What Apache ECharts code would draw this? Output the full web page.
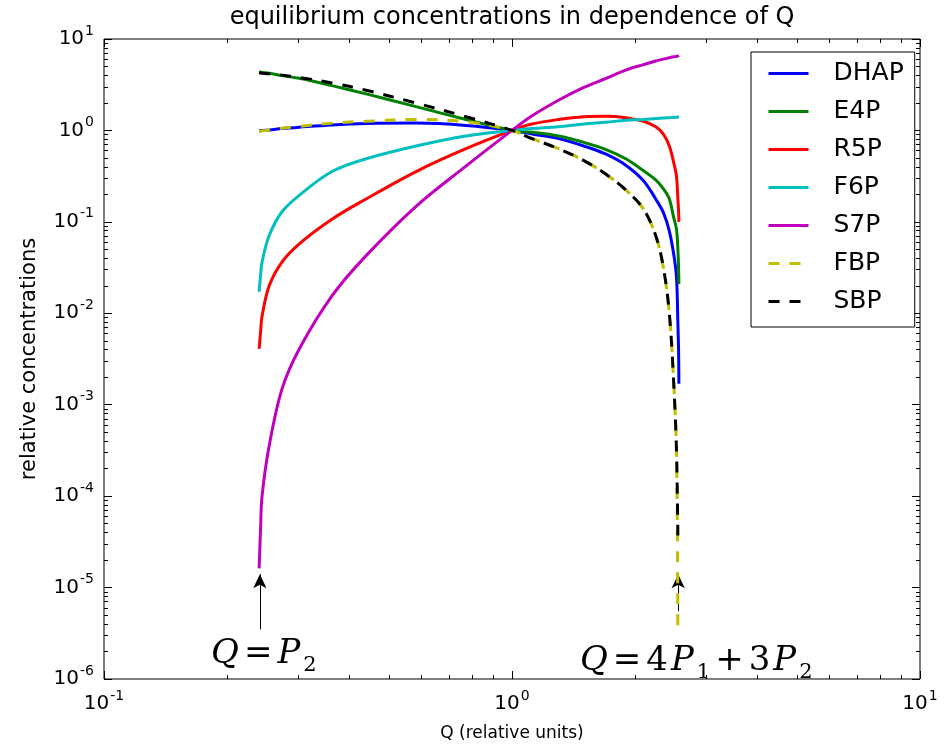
<!DOCTYPE html>
<html>
<head>
<meta charset="utf-8">
<script src="https://cdn.jsdelivr.net/npm/echarts@6/dist/echarts.min.js"></script>
<style>
html,body{margin:0;padding:0;background:#fff;}
#main{width:946px;height:747px;}
</style>
</head>
<body>
<div id="main"></div>
<script>
// Q values shared by all curves (relative units)
var qValues = [0.24, 0.242, 0.244, 0.254, 0.273, 0.301, 0.362, 0.439, 0.582, 0.771, 1.0, 1.12, 1.3, 1.5, 1.7, 1.9, 2.1, 2.25, 2.35, 2.43, 2.49, 2.53, 2.55, 2.56, 2.565];

// relative concentrations
var dhap = [0.989, 0.992, 0.995, 1.012, 1.047, 1.084, 1.148, 1.189, 1.202, 1.135, 1.0, 0.912, 0.813, 0.676, 0.55, 0.417, 0.282, 0.178, 0.126, 0.0794, 0.0447, 0.0251, 0.00794, 0.00398, 0.0017];
var e4p = [4.365, 4.345, 4.315, 4.217, 3.981, 3.715, 3.09, 2.512, 1.82, 1.318, 1.0, 0.955, 0.871, 0.741, 0.617, 0.49, 0.363, 0.288, 0.229, 0.178, 0.112, 0.0832, 0.0501, 0.0316, 0.0209];
var r5p = [0.00407, 0.0063, 0.0093, 0.020, 0.0363, 0.0575, 0.107, 0.178, 0.355, 0.631, 1.0, 1.175, 1.318, 1.413, 1.429, 1.38, 1.259, 1.096, 0.912, 0.676, 0.447, 0.316, 0.178, 0.132, 0.1];
var f6p = [0.0172, 0.0263, 0.0363, 0.0708, 0.129, 0.195, 0.355, 0.49, 0.676, 0.871, 1.0, 1.047, 1.096, 1.175, 1.23, 1.29, 1.32, 1.35, 1.365, 1.38, 1.387, 1.393, 1.40, 1.40, 1.40];
var s7p = [1.62e-5, 4.47e-5, 1.0e-4, 3.55e-4, 1.48e-3, 4.07e-3, 0.0155, 0.0427, 0.148, 0.407, 1.0, 1.445, 2.138, 2.951, 3.715, 4.571, 5.248, 5.754, 6.026, 6.237, 6.383, 6.457, 6.531, 6.531, 6.607];
var fbp = [0.977, 0.983, 0.989, 1.012, 1.059, 1.109, 1.202, 1.259, 1.318, 1.245, 1.0, 0.813, 0.631, 0.468, 0.331, 0.224, 0.138, 0.0708, 0.0316, 0.01, 0.00178, 0.000316, 0.0000033, null, null];
var sbp = [4.266, 4.246, 4.227, 4.169, 4.027, 3.802, 3.311, 2.754, 1.995, 1.413, 1.0, 0.813, 0.631, 0.468, 0.331, 0.224, 0.138, 0.0708, 0.0316, 0.01, 0.00178, 0.000316, 0.0000372, null, null];

var names = ["DHAP", "E4P", "R5P", "F6P", "S7P", "FBP", "SBP"];
var colors = ["#0000ff", "#008000", "#ff0000", "#00bfbf", "#bf00bf", "#bfbf00", "#000000"];

// axis ticks
var xMajor = [0.1, 1, 10];
var yMajor = [1e-6, 1e-5, 1e-4, 1e-3, 1e-2, 1e-1, 1, 10];

// annotation points (Q, concentration)
var leftArrow = [[0.241, 3.5e-6], [0.241, 1.4e-5]];
var rightArrow = [[2.555, 5.5e-6], [2.555, 1.4e-5]];
var leftText = [0.241, 2.0e-6];
var rightText = [2.555, 1.63e-6];

function minorOf(major){
	var out = [];
	for(var i=0;i<major.length-1;i++){
		for(var m=2;m<=9;m++){
			out.push(+(major[i]*m).toPrecision(3));
		}
	}
	return out;
}

function pairs(vals){
	var d = [];
	for(var i=0;i<qValues.length;i++){
		if(vals[i]!=null){
			d.push([qValues[i], vals[i]]);
		}
	}
	return d;
}

var tickRich = {
	b:{fontSize:20, fontFamily:"DejaVu Sans", color:"#000"},
	s:{fontSize:14, fontFamily:"DejaVu Sans", color:"#000", padding:[0,0,16,1]}
};
function powLabel(v){
	var e = Math.round(Math.log(v)/Math.LN10);
	return "{b|10}{s|" + e + "}";
}

function axis(pos, ticks, len, withLabels, min, max){
	var a = {
		type:"log", logBase:10, min:min, max:max, position:pos,
		axisLine:{show:false},
		splitLine:{show:false},
		axisTick:{show:true, inside:true, length:len, customValues:ticks, lineStyle:{color:"#000", width:1}},
		axisLabel:{show:false}
	};
	if(withLabels){
		a.axisLabel = {show:true, customValues:ticks, formatter:powLabel, rich:tickRich, margin:10};
	}
	return a;
}

var xMinor = minorOf(xMajor);
var yMinor = minorOf(yMajor);

var xAxes = [
	axis("bottom",xMajor,8,true,0.1,10),
	axis("bottom",xMinor,4,false,0.1,10),
	axis("top",xMajor,8,false,0.1,10),
	axis("top",xMinor,4,false,0.1,10)
];
xAxes[0].name = "Q (relative units)";
xAxes[0].nameLocation = "middle";
xAxes[0].nameGap = 46;
xAxes[0].nameTextStyle = {fontFamily:"DejaVu Sans", fontSize:17, color:"#000"};

var yAxes = [
	axis("left",yMajor,8,true,1e-6,10),
	axis("left",yMinor,4,false,1e-6,10),
	axis("right",yMajor,8,false,1e-6,10),
	axis("right",yMinor,4,false,1e-6,10)
];
yAxes[0].name = "relative concentrations";
yAxes[0].nameLocation = "middle";
yAxes[0].nameGap = 64;
yAxes[0].nameTextStyle = {fontFamily:"DejaVu Sans", fontSize:21, color:"#000"};

var allVals = [dhap, e4p, r5p, f6p, s7p, fbp, sbp];
var series = [];
for(var i=0;i<names.length;i++){
	var dashed = (names[i]=="FBP" || names[i]=="SBP");
	series.push({
		name:names[i],
		type:"line",
		data:pairs(allVals[i]),
		symbol:"none",
		smooth:0.35,
		color:colors[i],
		lineStyle:{width:3, color:colors[i], type:dashed?[11,10]:"solid", cap:"butt"},
		z:2+i
	});
}

var mathRich = {
	i:{fontSize:34, fontFamily:"DejaVu Serif", fontStyle:"italic", color:"#000"},
	n:{fontSize:34, fontFamily:"DejaVu Serif", color:"#000", padding:[0,5,0,5]},
	d:{fontSize:34, fontFamily:"DejaVu Serif", color:"#000", padding:[0,3,0,0]},
	s:{fontSize:21, fontFamily:"DejaVu Serif", color:"#000", padding:[22,0,0,3]}
};

// arrows and labels sit on the S7P series
series[4].markLine = {
	silent:true,
	symbol:["none","arrow"],
	symbolSize:[10,14],
	lineStyle:{color:"#000", width:1, type:"solid"},
	label:{show:false},
	data:[
		[{coord:leftArrow[0]},{coord:leftArrow[1]}],
		[{coord:rightArrow[0]},{coord:rightArrow[1]}]
	]
};
series[4].markPoint = {
	silent:true,
	symbol:"circle",
	symbolSize:0,
	label:{show:true, position:"inside"},
	data:[
		{coord:leftText, label:{formatter:"{i|Q}{n|=}{i|P}{s|2}", rich:mathRich, offset:[4,3]}},
		{coord:rightText, label:{formatter:"{i|Q}{n|=}{d|4}{i|P}{s|1}{n|+}{d|3}{i|P}{s|2}", rich:mathRich, offset:[18,2]}}
	]
};

var myChart = echarts.init(document.getElementById("main"));
var option = {
	animation:false,
	backgroundColor:"#fff",
	title:{
		text:"equilibrium concentrations in dependence of Q",
		left:512, top:6, textAlign:"center", padding:0,
		textStyle:{fontFamily:"DejaVu Sans", fontSize:24, fontWeight:"normal", color:"#000"}
	},
	grid:{left:104, right:26, top:39, bottom:67, show:true, borderColor:"#000", borderWidth:1, backgroundColor:"transparent"},
	legend:{
		orient:"vertical", left:751, top:52,
		padding:[9,11,13,16],
		itemWidth:40, itemHeight:14, itemGap:13,
		backgroundColor:"#fff", borderColor:"#000", borderWidth:1, borderRadius:0,
		itemStyle:{opacity:0},
		lineStyle:{width:3},
		textStyle:{fontFamily:"DejaVu Sans", fontSize:25, color:"#000", padding:[0,0,0,20]},
		data:names
	},
	xAxis:xAxes,
	yAxis:yAxes,
	series:series
};
myChart.setOption(option);
</script>
</body>
</html>
